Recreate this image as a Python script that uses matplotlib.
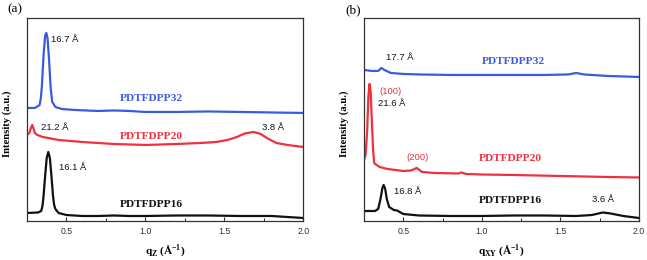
import matplotlib
matplotlib.use("Agg")
import matplotlib.pyplot as plt
from matplotlib.ticker import MultipleLocator

BLUE = "#3a5be0"
RED = "#f0303f"
BLACK = "#111111"

# panel (a): out-of-plane (q_z) profiles, intensity in arbitrary units
a32_q = [0.25, 0.30, 0.33, 0.338, 0.345, 0.355, 0.365, 0.372, 0.38, 0.39, 0.40, 0.41,
         0.43, 0.47, 0.55, 0.70, 0.80, 0.90, 1.00, 1.20, 1.40, 1.60, 1.80, 2.00]
a32_i = [113, 113, 116, 123, 136, 166, 185, 188, 183, 161, 133, 119,
         114, 112, 111, 110, 110.5, 110, 109, 109, 109.5, 109, 108.5, 108]

a20_q = [0.25, 0.265, 0.275, 0.283, 0.29, 0.30, 0.315, 0.35, 0.45, 0.60, 0.80, 1.00,
         1.20, 1.35, 1.45, 1.52, 1.58, 1.63, 1.685, 1.73, 1.78, 1.83, 1.90, 2.00]
a20_i = [86, 88, 93, 96, 93, 88, 86, 84, 81, 79, 77, 76,
         77, 78, 79, 81, 84, 87.5, 89, 87, 82, 78, 76, 74]

a16_q = [0.25, 0.32, 0.34, 0.348, 0.355, 0.365, 0.375, 0.385, 0.395, 0.405, 0.415, 0.422,
         0.43, 0.45, 0.50, 0.60, 0.70, 0.80, 0.90, 1.00, 1.20, 1.40, 1.60, 1.80,
         1.90, 2.00]
a16_i = [8, 8.5, 10, 15, 25, 45, 63, 69, 63, 45, 25, 16,
         12, 8, 6, 5, 5, 5.5, 5, 5, 5.5, 5.5, 5, 5,
         4, 3]

# panel (b): in-plane (q_xy) profiles
b32_q = [0.25, 0.30, 0.34, 0.36, 0.38, 0.42, 0.50, 0.60, 0.80, 1.00, 1.20, 1.40,
         1.55, 1.60, 1.65, 1.80, 2.00]
b32_i = [151, 150, 150, 153, 151, 148, 147, 146.5, 146, 146, 146, 146,
         146.5, 148, 146.5, 145, 144]

b20_q = [0.25, 0.26, 0.27, 0.278, 0.285, 0.292, 0.30, 0.308, 0.315, 0.33, 0.35, 0.40,
         0.45, 0.50, 0.55, 0.585, 0.62, 0.70, 0.85, 0.87, 0.90, 1.00, 1.20, 1.50,
         1.80, 2.00]
b20_i = [61, 66, 90, 125, 137, 130, 100, 70, 58, 56, 54, 52,
         51, 50, 50.5, 53, 49, 48, 47.5, 48.5, 47, 46.5, 46, 45,
         44, 43.5]

b16_q = [0.25, 0.32, 0.34, 0.355, 0.367, 0.375, 0.385, 0.395, 0.41, 0.44, 0.46, 0.50,
         0.60, 0.80, 1.00, 1.20, 1.40, 1.60, 1.70, 1.77, 1.82, 1.90, 2.00]
b16_i = [10, 10, 12, 22, 33, 36, 32, 22, 14, 11, 10.5, 7,
         5.5, 5, 5, 5.5, 5.5, 5, 6, 8.5, 7.5, 5, 3]

SERIF = ["Liberation Serif", "DejaVu Serif"]
SANS = ["Liberation Sans", "DejaVu Sans"]

fig = plt.figure(figsize=(6.47, 2.6), dpi=100)
ax_a = fig.add_axes([0.0417, 0.150, 0.427, 0.781])
ax_b = fig.add_axes([0.5626, 0.150, 0.425, 0.781])


def style(ax, xlabel):
    ax.set_xlim(0.25, 2.0)
    ax.set_ylim(0, 203)
    ax.set_yticks([])
    ax.xaxis.set_major_locator(MultipleLocator(0.5))
    ax.xaxis.set_minor_locator(MultipleLocator(0.25))
    ax.tick_params(axis="x", which="major", direction="in", length=3, width=0.8,
                   labelsize=6.3, pad=4, colors="#333333")
    ax.tick_params(axis="x", which="minor", direction="in", length=2, width=0.6)
    for lab in ax.get_xticklabels():
        lab.set_family(SANS)
    for sp in ax.spines.values():
        sp.set_linewidth(0.9)
        sp.set_color("#333333")
    ax.set_xlabel(xlabel, family=SERIF, weight="bold", fontsize=8, labelpad=5)
    ax.set_ylabel("Intensity (a.u.)", family=SERIF, weight="bold", fontsize=7.7)
    ax.yaxis.set_label_coords(-0.055, 0.48)


def name(ax, x, y, s, color):
    ax.text(x, y, s, ha="center", va="center", color=color, family=SERIF,
            weight="bold", fontsize=8.2)


def note(ax, x, y, s, color=BLACK, ha="left"):
    ax.text(x, y, s, ha=ha, va="center", color=color, family=SANS, fontsize=6.8)


# (a)
ax_a.plot(a32_q, a32_i, color=BLUE, lw=1.6)
ax_a.plot(a20_q, a20_i, color=RED, lw=1.6)
ax_a.plot(a16_q, a16_i, color=BLACK, lw=1.6)
style(ax_a, "q$_\\mathregular{Z}$ (Å$^\\mathregular{-1}$)")
note(ax_a, 0.405, 181, "16.7 Å")
name(ax_a, 1.04, 122, "PDTFDPP32", BLUE)
note(ax_a, 0.34, 93, "21.2 Å")
name(ax_a, 1.04, 84, "PDTFDPP20", RED)
note(ax_a, 1.74, 93, "3.8 Å")
note(ax_a, 0.455, 53, "16.1 Å")
name(ax_a, 1.04, 16, "PDTFDPP16", BLACK)

# (b)
ax_b.plot(b32_q, b32_i, color=BLUE, lw=1.6)
ax_b.plot(b20_q, b20_i, color=RED, lw=1.6)
ax_b.plot(b16_q, b16_i, color=BLACK, lw=1.6)
style(ax_b, "q$_\\mathregular{XY}$ (Å$^\\mathregular{-1}$)")
note(ax_b, 0.39, 163, "17.7 Å")
name(ax_b, 1.20, 159, "PDTFDPP32", BLUE)
note(ax_b, 0.35, 129, "(100)", RED)
note(ax_b, 0.34, 117, "21.6 Å")
note(ax_b, 0.59, 63, "(200)", RED, ha="center")
name(ax_b, 1.18, 62, "PDTFDPP20", RED)
note(ax_b, 0.44, 29, "16.8 Å")
name(ax_b, 1.18, 20, "PDTFDPP16", BLACK)
note(ax_b, 1.77, 21, "3.6 Å", ha="center")

fig.text(0.023, 0.964, "(a)", family=SERIF, fontsize=9.5, ha="center", va="center")
fig.text(0.546, 0.962, "(b)", family=SERIF, fontsize=9.5, ha="center", va="center")

fig.savefig("out.png", dpi=100, facecolor="white")
